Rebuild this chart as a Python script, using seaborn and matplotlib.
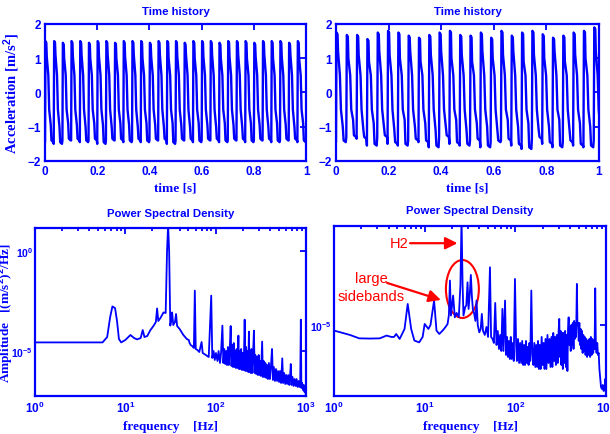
import numpy as np
import matplotlib
matplotlib.use("Agg")
import matplotlib.pyplot as plt
import matplotlib.ticker as mticker
from matplotlib.patches import Ellipse
import seaborn as sns

sns.set_style("white")
plt.rcParams['font.family'] = ['Liberation Sans', 'DejaVu Sans']
plt.rcParams['mathtext.fontset'] = 'custom'
plt.rcParams['mathtext.rm'] = 'Liberation Sans:bold'
plt.rcParams['mathtext.it'] = 'Liberation Sans:bold'
plt.rcParams['mathtext.bf'] = 'Liberation Sans:bold'

BLUE = '#0000ff'

# ---- time history, read per cycle (fundamental from the PSD peak) ----
left_freq = 30.0
left_peak = [1.5, 1.5, 1.45, 1.5, 1.5, 1.45, 1.5, 1.5, 1.45, 1.5, 1.5, 1.5, 1.45, 1.5, 1.5,
             1.5, 1.45, 1.5, 1.5, 1.5, 1.45, 1.5, 1.5, 1.5, 1.45, 1.5, 1.5, 1.5, 1.45, 1.5]
left_upper = [1.05, 1.1, 1.0, 1.05, 1.1, 1.0, 1.05, 1.1, 1.0, 1.05, 1.1, 1.0, 1.05, 1.1, 1.0,
              1.05, 1.1, 1.0, 1.05, 1.1, 1.0, 1.05, 1.1, 1.0, 1.05, 1.1, 1.0, 1.05, 1.1, 1.0]
left_lower = [-0.95, -1.0, -0.9, -0.95, -1.0, -0.9, -0.95, -1.0, -0.9, -0.95, -1.0, -0.9, -0.95, -1.0, -0.9,
              -0.95, -1.0, -0.9, -0.95, -1.0, -0.9, -0.95, -1.0, -0.9, -0.95, -1.0, -0.9, -0.95, -1.0, -0.9]
left_trough = [-1.45, -1.5, -1.4, -1.4, -1.45, -1.4, -1.5, -1.4, -1.4, -1.45, -1.4, -1.45, -1.4, -1.4, -1.5,
               -1.4, -1.4, -1.45, -1.4, -1.4, -1.45, -1.4, -1.4, -1.45, -1.4, -1.4, -1.45, -1.4, -1.4, -1.45]

right_freq = 25.5
right_peak = [1.75, 1.68, 1.68, 1.56, 1.75, 1.8, 1.75, 1.66, 1.6, 1.68, 1.75, 1.8, 1.68,
              1.66, 1.75, 1.6, 1.8, 1.66, 1.75, 1.8, 1.7, 1.6, 1.66, 1.75, 1.8, 1.9]
right_upper = [1.2, 1.0, 1.1, 0.9, 1.2, 1.1, 1.0, 1.2, 0.9, 1.1, 1.2, 1.0, 1.1,
               0.9, 1.2, 1.0, 1.1, 1.2, 0.9, 1.1, 1.0, 1.2, 0.9, 1.1, 1.0, 1.2]
right_lower = [-1.0, -0.8, -1.1, -0.9, -1.0, -1.1, -0.8, -1.0, -0.9, -1.1, -1.0, -0.8, -1.1,
               -0.9, -1.0, -1.1, -0.8, -1.0, -0.9, -1.1, -1.0, -0.8, -1.1, -0.9, -1.0, -1.1]
right_trough = [-1.45, -1.3, -1.35, -1.55, -1.3, -1.5, -1.55, -1.4, -1.45, -1.6, -1.3, -1.5, -1.55,
                -1.4, -1.6, -1.45, -1.4, -1.55, -1.65, -1.35, -1.5, -1.6, -1.45, -1.55, -1.6, -1.4]

# ---- power spectral density, read as (frequency, log10 amplitude) vertices ----
psd_left_f = [1.0, 5.6, 6.3, 6.8, 7.2, 7.7, 8.1, 8.5, 9.0, 10.0, 11.4, 12.5, 13.5, 14.8, 15.6, 16.3,
              17.5, 19.0, 20.5, 21.8, 22.5, 23.2, 24.5, 26.5, 28.0, 29.0, 29.8, 30.6, 31.5, 32.5,
              33.0, 34.0, 35.5, 36.5, 37.5, 40.0, 44.0, 48.0, 50.5, 51.5, 53.0, 55.0, 57.5, 58.9,
              60.3, 63.0, 66.0, 70.0, 72.0, 78.0, 84.0, 89.5,
              92, 95, 98, 101, 105, 108, 112, 115, 119, 122, 125, 128, 131, 134, 137, 140, 143, 147,
              150, 153, 156, 159, 162, 165, 168, 171, 175, 179, 182, 185, 188, 192, 196, 200, 204,
              207, 210, 214, 218, 222, 226, 230, 234, 238, 242, 246, 250, 255, 260, 266, 271, 276,
              282, 288, 294, 300, 306, 312, 318, 323, 328, 334, 341, 348, 356, 364, 372, 380, 390,
              400, 410, 422, 432, 442, 455, 467, 480, 492, 505, 518, 532, 548, 560, 575, 590, 605,
              620, 638, 655, 668, 681, 695, 712, 730, 750, 770, 790, 810, 830, 850, 866, 880, 892,
              910, 930, 950, 965, 980, 1000]
psd_left_log = [-4.57, -4.57, -4.3, -3.3, -2.77, -2.85, -3.5, -4.4, -4.57, -4.45, -4.2, -4.35, -4.42,
                -4.35, -3.95, -4.3, -4.25, -3.95, -3.75, -3.55, -2.87, -3.5, -3.35, -3.07, -3.1, 0.0,
                1.3, 0.0, -3.73, -3.4, -3.07, -3.7, -3.55, -3.15, -3.75, -3.9, -4.2, -4.4, -4.45,
                -4.6, -4.7, -4.75, -4.85, -1.98, -4.9, -4.95, -5.05, -4.55, -5.1, -5.2, -5.3, -2.23,
                -5.35, -5.0, -5.45, -5.1, -5.5, -5.0, -5.6, -5.1, -3.73, -5.6, -4.9, -5.65, -5.0,
                -5.7, -4.8, -5.7, -5.1, -3.75, -5.75, -4.7, -5.8, -4.6, -5.8, -5.0, -5.85, -4.9,
                -5.85, -4.23, -5.9, -5.0, -5.9, -4.9, -5.95, -5.1, -5.95, -4.9, -3.43, -6.0, -4.8,
                -6.0, -5.0, -6.05, -4.03, -6.05, -5.0, -6.1, -4.9, -6.1, -5.2, -3.98, -6.1, -5.2,
                -6.15, -5.3, -6.2, -5.2, -6.2, -5.5, -6.25, -5.4, -4.53, -6.3, -5.5, -6.3, -5.6,
                -6.35, -5.7, -6.4, -5.6, -6.4, -5.8, -4.9, -6.45, -5.8, -6.5, -5.9, -6.5, -6.0,
                -6.55, -6.0, -6.6, -5.37, -6.6, -6.1, -6.65, -6.2, -6.65, -6.2, -6.7, -6.3, -5.65,
                -6.7, -6.3, -6.75, -6.4, -6.75, -6.4, -6.8, -6.5, -6.8, -6.6, -3.43, -6.85, -6.6,
                -6.95, -6.7, -7.05, -6.9, -7.2]

psd_right_f = [1.0, 1.5, 1.9, 2.5, 3.2, 3.8, 4.3, 4.6, 4.85, 5.3, 6.0, 6.5, 7.1, 7.7, 8.7, 9.5, 10.0,
               11.0, 11.6, 12.7, 13.5, 14.5, 15.8, 17.0, 17.9, 18.5, 19.0, 19.5, 20.6, 21.5, 22.5,
               23.8, 24.8, 25.5, 26.2, 26.8, 28.0, 28.8, 29.7, 30.5, 31.5, 32.3, 33.2, 34.0, 35.0,
               36.3, 37.3, 38.5, 40.0, 41.5, 42.7, 44.0, 46.0, 48.0, 50.0, 52.5, 54.0, 56.0,
               58, 60, 62, 64, 66, 68, 70, 72, 74, 77, 79, 81, 83, 85, 87, 89, 91, 94, 96, 99, 102,
               104, 107, 110, 113, 116, 119, 122, 125, 128, 131, 134, 137, 140, 143, 146, 150, 154,
               158, 162, 166, 170, 174, 178, 182, 186, 190, 195, 200, 205, 210, 215, 220, 226, 232,
               238, 244, 250, 256, 262, 268, 274, 280, 287, 294, 300, 305, 310, 316, 322, 328, 334,
               340, 347, 354, 361, 368, 375, 381, 387, 394, 400, 408, 415, 422, 430, 438, 445, 452,
               460, 468, 477, 484, 492, 500, 508, 516, 525, 534, 543, 552, 562, 572, 582, 594, 606,
               618, 630, 642, 655, 668, 680, 694, 708, 722, 736, 748, 760, 772, 786, 800, 815, 830,
               845, 860, 880, 900, 920, 940, 960, 980, 990, 1000]
psd_right_log = [-5.28, -5.5, -5.67, -5.68, -5.67, -5.53, -5.6, -5.6, -5.45, -5.7, -5.2, -3.95, -5.2,
                 -5.78, -5.87, -5.6, -4.95, -5.2, -5.0, -3.78, -5.28, -5.45, -5.28, -5.1, -4.95, -4.5,
                 -2.78, -4.53, -3.53, -4.62, -4.4, -4.6, -3.0, 0.3, -3.0, -4.53, -4.1, -4.03, -2.87,
                 -4.2, -3.4, -2.5, -3.6, -4.2, -4.4, -4.8, -3.78, -5.0, -5.37, -5.2, -4.45, -5.3,
                 -5.5, -5.1, -5.6, -2.12, -5.6, -5.7,
                 -5.9, -3.9, -6.0, -5.3, -6.2, -5.5, -6.3, -4.2, -6.3, -3.78, -6.5, -5.6, -6.6, -5.8,
                 -6.7, -5.6, -6.7, -5.9, -6.8, -2.7, -6.0, -6.8, -5.7, -6.9, -5.9, -6.9, -5.8, -7.0,
                 -6.0, -7.0, -5.8, -6.9, -6.1, -7.0, -5.9, -6.8, -3.28, -6.5, -7.0, -5.9, -7.1, -6.0,
                 -7.1, -5.8, -7.2, -6.0, -7.2, -5.6, -7.0, -5.9, -7.2, -5.7, -7.2, -5.5, -6.9, -5.7,
                 -7.1, -5.6, -7.1, -5.4, -6.8, -5.6, -7.0, -5.5, -6.9, -5.3, -4.7, -6.6, -5.3, -7.0,
                 -5.4, -7.2, -5.4, -6.9, -5.3, -7.1, -5.5, -7.3, -5.2, -4.62, -6.0, -5.1, -6.3, -5.0,
                 -6.0, -4.9, -6.2, -4.8, -5.7, -4.9, -5.6, -2.95, -5.0, -4.9, -5.8, -4.9, -6.0, -5.2,
                 -6.2, -5.3, -6.4, -5.5, -6.3, -5.6, -6.5, -5.7, -6.6, -5.8, -6.5, -5.7, -6.6, -5.6,
                 -6.5, -5.7, -6.4, -5.8, -6.2, -3.17, -6.0, -6.4, -5.9, -6.5, -6.4, -7.2, -7.6, -8.1,
                 -8.2, -8.0, -8.3, -8.2, -7.7, -8.3, -8.4]

# within-cycle vertex positions (fraction of one period) for the time trace
cycle_frac = [0.0, 0.05, 0.15, 0.20, 0.38, 0.48, 0.66, 0.74, 0.95]


def build_trace(freq, peak, upper, lower, trough):
    t, a = [], []
    period = 1.0 / freq
    for k in range(len(peak)):
        lev = [trough[k], peak[k], peak[k] - 0.05, upper[k], 0.5, -0.5,
               lower[k], trough[k] + 0.05, trough[k]]
        for fr, v in zip(cycle_frac, lev):
            t.append((k + fr) * period)
            a.append(v)
    return np.array(t), np.array(a)


def style_axes(ax, ysize=8.5):
    for sp in ax.spines.values():
        sp.set_color(BLUE)
        sp.set_linewidth(1.6)
        sp.set_visible(True)
    ax.tick_params(which='both', direction='in', top=True, right=True, colors=BLUE,
                   labelcolor=BLUE, labelsize=8.5, width=1.3, pad=3)
    ax.tick_params(axis='y', labelsize=ysize)
    ax.tick_params(which='major', length=4)
    ax.tick_params(which='minor', length=2.5)
    for lbl in ax.get_xticklabels() + ax.get_yticklabels():
        lbl.set_fontweight('bold')
    ax.grid(False)


fig = plt.figure(figsize=(6.10, 4.35), dpi=100)
ax_tl = fig.add_axes([0.0738, 0.6276, 0.428, 0.315])
ax_tr = fig.add_axes([0.5508, 0.6276, 0.431, 0.315])
ax_bl = fig.add_axes([0.0574, 0.0874, 0.444, 0.386])
ax_br = fig.add_axes([0.5475, 0.0874, 0.446, 0.391])

serif = dict(family='Liberation Serif', fontweight='bold', color=BLUE)
title_kw = dict(fontsize=8.2, fontweight='bold', color=BLUE)

for ax, (fr, pk, up, lo, tr) in zip([ax_tl, ax_tr],
                                    [(left_freq, left_peak, left_upper, left_lower, left_trough),
                                     (right_freq, right_peak, right_upper, right_lower, right_trough)]):
    t, a = build_trace(fr, pk, up, lo, tr)
    sns.lineplot(x=t, y=a, ax=ax, color=BLUE, lw=1.7, sort=False, estimator=None)
    ax.set_xlim(0, 1)
    ax.set_ylim(-2, 2)
    ax.set_xticks([0, 0.2, 0.4, 0.6, 0.8, 1])
    ax.set_xticklabels(['0', '0.2', '0.4', '0.6', '0.8', '1'])
    ax.set_yticks([-2, -1, 0, 1, 2])
    ax.set_title('Time history', pad=7, **title_kw)
    ax.set_xlabel('time [s]', fontsize=9.5, labelpad=3, **serif)
    style_axes(ax)

ax_tl.set_ylabel('Acceleration [m/s$^2$]', fontsize=10.5, **serif)
ax_tl.yaxis.set_label_coords(-0.088, 0.5)

for ax, f, lg, ylim in [(ax_bl, psd_left_f, psd_left_log, (10 ** -7.25, 10 ** 1.15)),
                        (ax_br, psd_right_f, psd_right_log, (10 ** -8.55, 10 ** -0.05))]:
    sns.lineplot(x=np.array(f), y=10.0 ** np.array(lg), ax=ax, color=BLUE, lw=1.3,
                 sort=False, estimator=None)
    ax.set_xscale('log')
    ax.set_yscale('log')
    ax.set_xlim(1, 1000)
    ax.set_ylim(*ylim)
    ax.xaxis.set_major_locator(mticker.FixedLocator([1, 10, 100, 1000]))
    ax.xaxis.set_minor_locator(mticker.LogLocator(base=10, subs=np.arange(2, 10), numticks=20))
    ax.xaxis.set_minor_formatter(mticker.NullFormatter())
    ax.yaxis.set_major_locator(mticker.FixedLocator([1e-10, 1e-5, 1e0]))
    ax.yaxis.set_minor_locator(mticker.NullLocator())
    ax.set_title('Power Spectral Density', pad=9, **title_kw)
    ax.set_xlabel('frequency    [Hz]', fontsize=9.5, labelpad=3, **serif)
    style_axes(ax, ysize=7.5)
    ax.tick_params(axis='y', pad=1.5)

ax_bl.set_ylabel('Amplitude   [(m/s$^2$)$^2$/Hz]', fontsize=9.5, **serif)
ax_bl.yaxis.set_label_coords(-0.075, 0.5)

# annotations on the right spectrum
arrow_kw = dict(arrowstyle='-|>', color='red', lw=1.6, mutation_scale=18, shrinkA=0, shrinkB=0)
ax_br.text(6.6, 10 ** -0.915, 'H2', color='red', fontsize=10.5, ha='right', va='center')
ax_br.annotate('', xy=(23.0, 10 ** -0.915), xytext=(6.9, 10 ** -0.915), arrowprops=arrow_kw)
ax_br.text(2.6, 10 ** -3.1, 'large\nsidebands', color='red', fontsize=10.5, ha='center',
           va='center', linespacing=1.3)
ax_br.annotate('', xy=(15.1, 10 ** -3.75), xytext=(3.85, 10 ** -2.9), arrowprops=arrow_kw)
ax_br.add_patch(Ellipse((0.472, 0.629), 0.121, 0.341, transform=ax_br.transAxes,
                        fill=False, edgecolor='red', lw=1.5))

fig.savefig('out.png', dpi=100)
